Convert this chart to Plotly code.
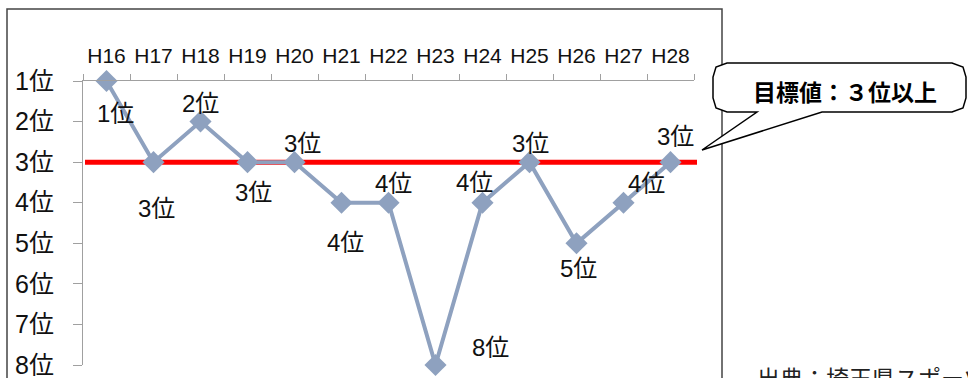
import plotly.graph_objects as go

# ---- data ----
years = ["H16", "H17", "H18", "H19", "H20", "H21", "H22", "H23", "H24", "H25", "H26", "H27", "H28"]
ranks = [1, 3, 2, 3, 3, 4, 4, 8, 4, 3, 5, 4, 3]
rank_ticks = [1, 2, 3, 4, 5, 6, 7, 8]
rank_tick_labels = ["1位", "2位", "3位", "4位", "5位", "6位", "7位", "8位"]
target_rank = 3
target_text = "目標値：３位以上"
source_text = "出典：埼玉県スポーツ振興課"

# ---- style: label offsets in px (dx, dy) ----
label_offsets = [(9, 32), (3, 46), (0, -18), (6, 30), (8, -19), (4, 40), (5, -19),
                 (55, -18), (-8, -20), (1, -19), (2, 25), (23, -19), (5, -26)]

W, H = 968, 378
L, T, R, B = 83, 81, 694, 365  # plot area in px
def px(x):
    return (x - L) / (R - L)
def py(y):
    return (B - y) / (B - T)

LINE_COL = "#8EA1BF"
FONT = "Liberation Sans, Arial, Noto Sans CJK JP, sans-serif"
CJK = "Noto Sans CJK JP, sans-serif"

fig = go.Figure()
fig.add_trace(go.Scatter(
    x=years, y=ranks, mode="lines+markers",
    line=dict(color=LINE_COL, width=4),
    marker=dict(symbol="diamond", size=17, color=LINE_COL),
    cliponaxis=False, showlegend=False, hoverinfo="skip"))

annotations = []
for yr, r, (dx, dy) in zip(years, ranks, label_offsets):
    annotations.append(dict(x=yr, y=r, xref="x", yref="y", text=f"{r}位", showarrow=False,
                            xanchor="center", yanchor="middle",
                            xshift=dx, yshift=-dy, font=dict(family=FONT, size=24, color="#111")))

# callout text
annotations.append(dict(x=px(845), y=py(91), xref="paper", yref="paper", text=f"<b>{target_text}</b>",
                        showarrow=False, xanchor="center", yanchor="middle",
                        font=dict(family=CJK, size=23, color="#000")))
# source text (partly cut off by the page edge, as in the original)
annotations.append(dict(x=px(755), y=py(358), xref="paper", yref="paper", text=source_text,
                        showarrow=False, xanchor="left", yanchor="top",
                        font=dict(family=CJK, size=23, color="#222")))

def pth(points, close=True):
    s = "M " + " L ".join(f"{px(a):.5f},{py(b):.5f}" for a, b in points)
    return s + (" Z" if close else "")

# callout bubble (rounded box with pointer)
x0, x1, y0, y1 = 713, 966, 63, 112
rr = 14
bubble = [
    (x0 + rr, y0), (x1 - rr, y0), (x1 - 3, y0 + 4), (x1, y0 + rr), (x1, y1 - rr), (x1 - 3, y1 - 4), (x1 - rr, y1),
    (822, y1), (702, 150), (757, y1),
    (x0 + rr, y1), (x0 + 3, y1 - 4), (x0, y1 - rr), (x0, y0 + rr), (x0 + 3, y0 + 4)]

shapes = [
    # outer chart frame
    dict(type="rect", xref="paper", yref="paper", x0=px(7), x1=px(722), y0=py(400), y1=py(9),
         line=dict(color="#444", width=1.5), fillcolor="rgba(0,0,0,0)", layer="below"),
    # target line
    dict(type="line", xref="paper", yref="y", x0=px(85), x1=px(697), y0=target_rank, y1=target_rank,
         line=dict(color="#FF0000", width=5), layer="below"),
    dict(type="path", xref="paper", yref="paper", path=pth(bubble),
         line=dict(color="#000", width=1.5), fillcolor="white", layer="below"),
]

fig.update_layout(
    width=W, height=H, margin=dict(l=L, r=W - R, t=T, b=H - B, autoexpand=False),
    paper_bgcolor="white", plot_bgcolor="white",
    annotations=annotations, shapes=shapes,
    xaxis=dict(type="category", side="top", range=[-0.5, len(years) - 0.5], automargin=False,
               showline=True, linecolor="#A0A0A0", linewidth=1, showgrid=False, zeroline=False,
               ticks="outside", ticklen=6, tickcolor="#A0A0A0", tickson="boundaries",
               tickangle=0,
               tickfont=dict(family=FONT, size=21, color="#111"), ticklabelstandoff=9),
    yaxis=dict(range=[8, 1], tickvals=rank_ticks, ticktext=rank_tick_labels, automargin=False,
               showline=True, linecolor="#A0A0A0", linewidth=1, showgrid=False, zeroline=False,
               ticks="outside", ticklen=9, tickcolor="#A0A0A0", ticklabeloverflow="allow",
               tickfont=dict(family=FONT, size=25, color="#111"), ticklabelstandoff=14),
)

fig.write_html("out.html")
